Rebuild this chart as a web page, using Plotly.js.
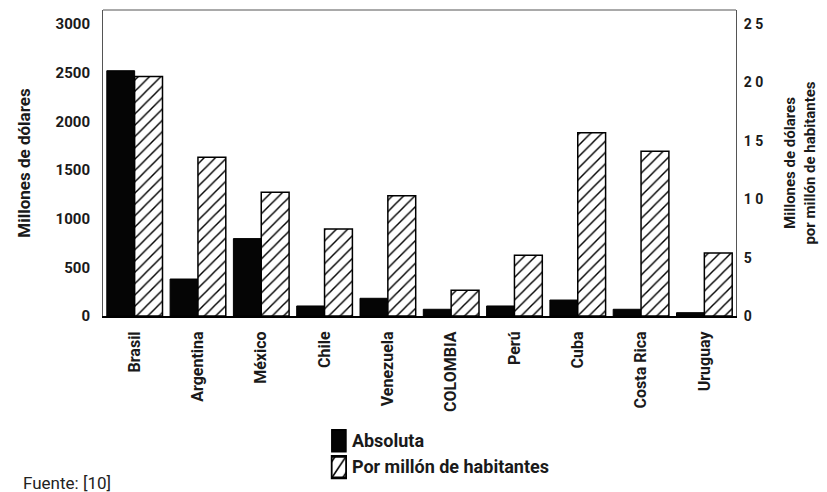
<!DOCTYPE html>
<html>
<head>
<meta charset="utf-8">
<script src="https://cdn.plot.ly/plotly-3.0.1.min.js"></script>
<style>
html,body{margin:0;padding:0;background:#fff;}
#chart{width:827px;height:492px;}
#chart .legendpoints path{transform:translate(27px,1px) scale(1.2,1.8);}
</style>
</head>
<body>
<div id="chart"></div>
<script>
const countries = ["Brasil","Argentina","México","Chile","Venezuela","COLOMBIA","Perú","Cuba","Costa Rica","Uruguay"];
const absoluta = [2520, 380, 795, 103, 182, 69, 103, 164, 69, 34];
const porMillon = [20.5, 13.6, 10.6, 7.45, 10.3, 2.2, 5.2, 15.7, 14.1, 5.4];
const leftTicks = [0, 500, 1000, 1500, 2000, 2500, 3000];
const leftTickText = ["0", "500", "1000", "1500", "2000", "2500", "3000"];
const rightTicks = [0, 5, 10, 15, 20, 25];
const rightTickText = ["0", "5", "1 0", "1 5", "2 0", "2 5"];

const FONT = "Roboto, DejaVu Sans, sans-serif";
const INK = "#1a1a1a";

const traces = [
  {
    type: "bar", name: "Absoluta", x: countries, y: absoluta, yaxis: "y",
    width: 0.44, offset: -0.44,
    marker: {color: "#050505", line: {color: "#000", width: 1}}
  },
  {
    type: "bar", name: "Por millón de habitantes", x: countries, y: porMillon, yaxis: "y2",
    width: 0.44, offset: 0,
    marker: {color: "#fff", line: {color: "#000", width: 1.5},
      pattern: {shape: "/", fgcolor: "#000", bgcolor: "#fff", size: 8, solidity: 0.18}}
  }
];

const layout = {
  width: 827, height: 492,
  margin: {l: 103, r: 91, t: 10, b: 176, autoexpand: false},
  paper_bgcolor: "#fff", plot_bgcolor: "#fff",
  font: {family: FONT, color: INK, size: 15, weight: "bold"},
  showlegend: true,
  barmode: "overlay",
  xaxis: {
    type: "category", showgrid: false, zeroline: false,
    showline: true, linecolor: "#000", linewidth: 2,
    ticks: "", tickangle: -90, ticklabelstandoff: 7,
    tickfont: {family: FONT, size: 16, color: INK, weight: "bold"}
  },
  yaxis: {
    range: [0, 3144], showgrid: false, zeroline: false,
    showline: true, linecolor: "#555", linewidth: 1,
    ticks: "", tickvals: leftTicks, ticktext: leftTickText, ticklabelstandoff: 9,
    tickfont: {family: FONT, size: 15, color: INK, weight: "bold"},
    title: {text: "Millones de dólares", font: {family: FONT, size: 17, color: INK, weight: "bold"}, standoff: 20}
  },
  yaxis2: {
    overlaying: "y", side: "right", range: [0, 26.2],
    showgrid: false, zeroline: false, showline: true, linecolor: "#555", linewidth: 1,
    ticks: "", tickvals: rightTicks, ticktext: rightTickText, ticklabelstandoff: 4,
    tickfont: {family: FONT, size: 14, color: INK, weight: "bold"},
    title: {text: "Millones de dólares<br>por millón de habitantes", font: {family: FONT, size: 15, color: INK, weight: "bold"}, standoff: 22}
  },
  shapes: [
    {type: "line", xref: "paper", yref: "paper", x0: 0, x1: 1, y0: 1, y1: 1, line: {color: "#555", width: 1}}
  ],
  legend: {
    orientation: "v", x: 0.33, y: -0.345, xanchor: "left", yanchor: "top",
    font: {family: FONT, size: 18, color: INK, weight: "bold"},
    bgcolor: "rgba(0,0,0,0)", tracegroupgap: 0, itemwidth: 30
  },
  annotations: [
    {text: "Fuente: [10]", xref: "paper", yref: "paper", x: -0.13, y: -0.505, xanchor: "left", yanchor: "top",
     showarrow: false, font: {family: FONT, size: 17, color: "#222", weight: "normal"}}
  ]
};

Plotly.newPlot("chart", traces, layout, {staticPlot: true, displayModeBar: false});
</script>
</body>
</html>
